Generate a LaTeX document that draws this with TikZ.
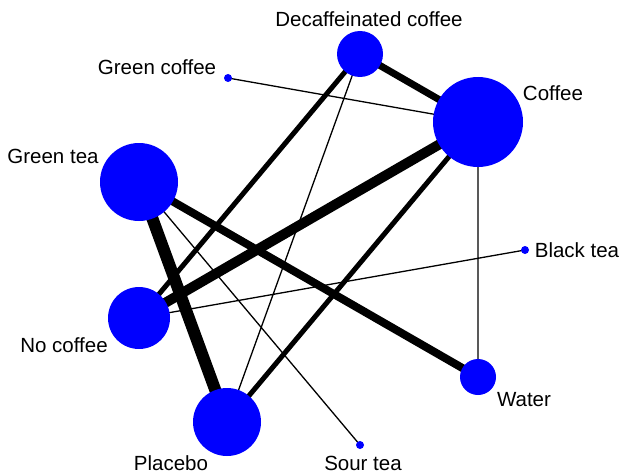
\documentclass[tikz,border=0pt]{standalone}
\usepackage{fontspec}
\setmainfont{Liberation Sans}
\usepackage{tikz}

\begin{document}
\begin{tikzpicture}[x=1pt,y=1pt,
		trt/.style={circle,fill={rgb,255:red,0;green,0;blue,255},draw=none,inner sep=0pt,minimum size=#1},
		lbl/.style={font=\fontsize{20.5}{24}\selectfont,inner sep=0pt},
		edge/.style={line width=#1,black}]
		\useasboundingbox (0,0) rectangle (620,475);
		% treatments (drawn first, edges go under the filled circles)
		\path
		(360,421) coordinate (decaf)
		(478,353) coordinate (coffee)
		(228,397) coordinate (gcof)
		(139,293) coordinate (gtea)
		(525,225) coordinate (btea)
		(139,157) coordinate (nocof)
		(478,98) coordinate (water)
		(227,53) coordinate (plac)
		(360,30) coordinate (sour);
		% comparisons
		\draw [edge=12pt] (gtea) -- (plac);
		\draw [edge=10pt] (coffee) -- (nocof);
		\draw [edge=8pt] (gtea) -- (water);
		\draw [edge=7pt] (decaf) -- (coffee);
		\draw [edge=5pt] (decaf) -- (nocof);
		\draw [edge=5pt] (coffee) -- (plac);
		\draw [edge=1.3pt]
		(gcof) -- (coffee)
		(decaf) -- (plac)
		(gtea) -- (sour)
		(btea) -- (nocof)
		(coffee) -- (water);
		\node [trt=46pt] (decafN) at (decaf) {};
		\node [trt=90pt] (coffeeN) at (coffee) {};
		\node [trt=8pt] (gcofN) at (gcof) {};
		\node [trt=78pt] (gteaN) at (gtea) {};
		\node [trt=8pt] (bteaN) at (btea) {};
		\node [trt=62pt] (nocofN) at (nocof) {};
		\node [trt=36pt] (waterN) at (water) {};
		\node [trt=68pt] (placN) at (plac) {};
		\node [trt=8pt] (sourN) at (sour) {};
		% labels
		\node [lbl] (decafL) at (369,456) {Decaffeinated coffee};
		\node [lbl] (coffeeL) at (553,382) {Coffee};
		\node [lbl] (gcofL) at (157,408) {Green coffee};
		\node [lbl] (gteaL) at (53,319) {Green tea};
		\node [lbl] (bteaL) at (577,225) {Black tea};
		\node [lbl] (nocofL) at (64,130) {No coffee};
		\node [lbl] (waterL) at (524,75) {Water};
		\node [lbl] (placL) at (171,12) {Placebo};
		\node [lbl] (sourL) at (363,12) {Sour tea};
	\end{tikzpicture}
\end{document}
